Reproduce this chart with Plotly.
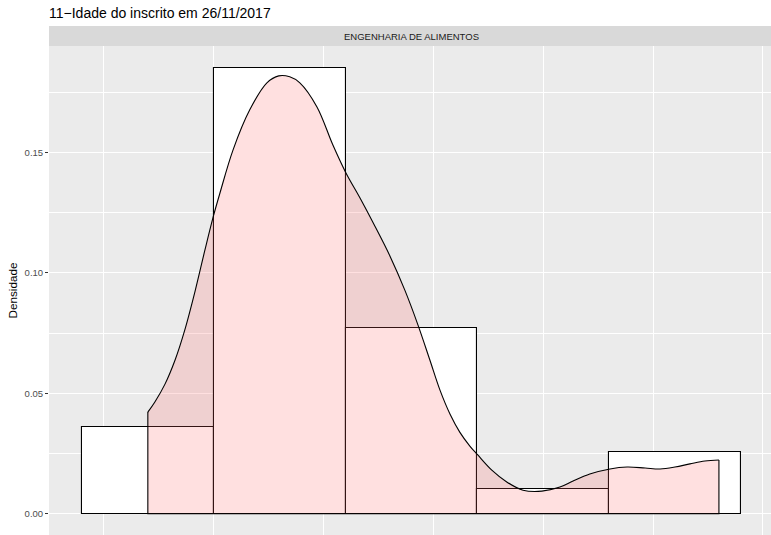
import plotly.graph_objects as go

# Histogram (density scale), bin width 3
bin_centers = [21, 24, 27, 30, 33]
bin_density = [0.0360, 0.1850, 0.0771, 0.01025, 0.0256]
bin_width = 3

# Density curve
dens_x = [21.00, 21.16, 21.39, 21.62, 21.84, 22.07, 22.30, 22.48, 22.64, 22.94,
          23.32, 23.71, 23.98, 24.23, 24.46, 24.85, 25.21, 25.51, 25.83, 26.17,
          26.51, 26.85, 27.15, 27.42, 27.65, 27.88, 28.10, 28.33, 28.51, 28.83,
          29.17, 29.54, 29.97, 30.38, 30.68, 31.06, 31.52, 31.91, 32.32, 32.66,
          33.00, 33.34, 33.68, 34.00]
dens_y = [0.0422, 0.0464, 0.0538, 0.0638, 0.0762, 0.0920, 0.1095, 0.1227, 0.1330, 0.1510,
          0.1676, 0.1788, 0.1817, 0.1813, 0.1788, 0.1688, 0.1531, 0.1414, 0.1310, 0.1193,
          0.1070, 0.0928, 0.0783, 0.0638, 0.0513, 0.0413, 0.0339, 0.0281, 0.0244, 0.0181,
          0.0132, 0.0098, 0.0094, 0.0111, 0.0136, 0.0165, 0.0186, 0.0194, 0.0190, 0.0186,
          0.0194, 0.0207, 0.0219, 0.0223]

title_text = "11\u2212Idade do inscrito em 26/11/2017"
strip_text = "ENGENHARIA DE ALIMENTOS"
y_title = "Densidade"

FONT = "Liberation Sans, Arial, sans-serif"
W, H = 771, 535
ML, MT = 49, 46
panel_h = H - MT

fig = go.Figure()

fig.add_trace(go.Bar(
    x=bin_centers, y=bin_density, width=[bin_width] * len(bin_centers),
    marker=dict(color="white", line=dict(color="black", width=1.1)),
    hoverinfo="skip", showlegend=False,
))

fig.add_trace(go.Scatter(
    x=dens_x, y=dens_y, mode="lines",
    line=dict(color="black", width=1.1, shape="spline", smoothing=1.0),
    fill="tozeroy", fillcolor="rgba(255,102,102,0.2)",
    hoverinfo="skip", showlegend=False,
))

# polygon edges (vertical sides + baseline) of the density area
fig.add_trace(go.Scatter(
    x=[dens_x[0], dens_x[0], dens_x[-1], dens_x[-1]],
    y=[dens_y[0], 0, 0, dens_y[-1]],
    mode="lines", line=dict(color="black", width=1.1),
    hoverinfo="skip", showlegend=False,
))

x0 = 18.75
px_per_unit = 43.93
x1 = x0 + (W - ML) / px_per_unit

fig.update_layout(
    width=W, height=H,
    margin=dict(l=ML, r=0, t=MT, b=0),
    paper_bgcolor="white", plot_bgcolor="#EBEBEB",
    bargap=0,
    font=dict(family=FONT, color="#000000"),
    title=dict(text=title_text, x=0, xref="paper", xanchor="left",
               y=1 - 13 / H, yref="container", yanchor="middle",
               font=dict(size=14, color="black", family=FONT)),
    xaxis=dict(range=[x0, x1], showticklabels=False, ticks="",
               showgrid=True, gridcolor="white", gridwidth=1.1,
               tick0=0, dtick=5, zeroline=False, showline=False,
               minor=dict(tick0=0, dtick=2.5, showgrid=True, gridcolor="white", gridwidth=0.55)),
    yaxis=dict(range=[-0.0088, 0.1941], tickformat=".2f", tick0=0, dtick=0.05,
               ticks="outside", ticklen=3, tickwidth=1, tickcolor="#333333",
               tickfont=dict(size=9.5, color="#4D4D4D", family=FONT),
               showgrid=True, gridcolor="white", gridwidth=1.1,
               zeroline=False, showline=False, automargin=False,
               minor=dict(tick0=0, dtick=0.025, showgrid=True, gridcolor="white", gridwidth=0.55),
               title=dict(text=y_title, standoff=4, font=dict(size=11.7, color="black", family=FONT))),
    shapes=[dict(type="rect", xref="paper", yref="paper", x0=0, x1=1.01,
                 y0=1, y1=1 + 20 / panel_h, fillcolor="#D9D9D9", line=dict(width=0), layer="above")],
    annotations=[dict(text=strip_text, xref="x", x=27, yref="paper", y=1 + 10 / panel_h,
                      xanchor="center", yanchor="middle", showarrow=False,
                      font=dict(size=9.5, color="#1A1A1A", family=FONT))],
)

fig.write_html("out.html", config=dict(displayModeBar=False),
               post_script="document.body.style.margin='0';document.body.style.overflow='hidden';")
